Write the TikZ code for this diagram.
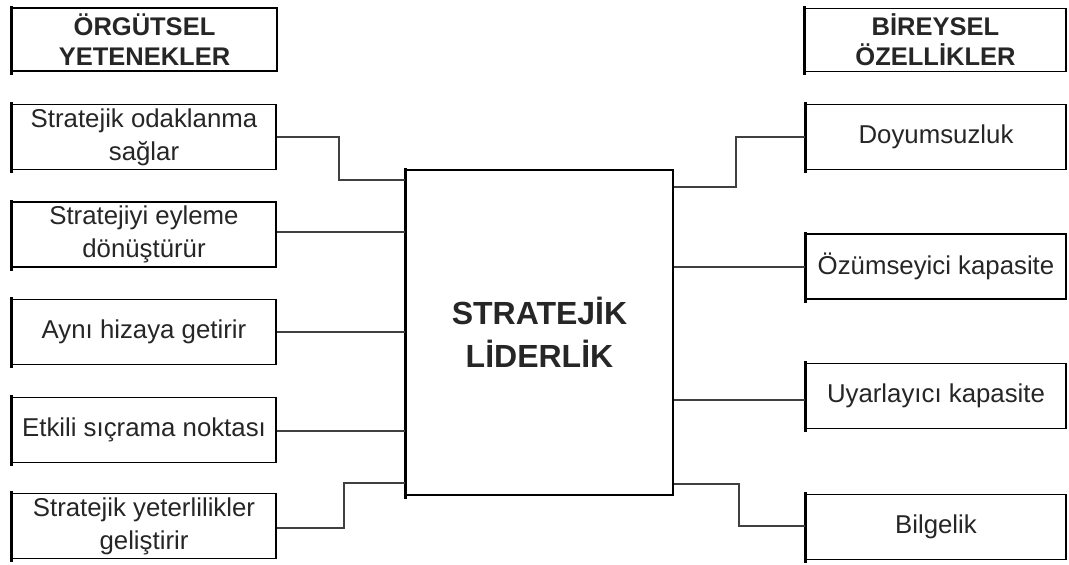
\documentclass[tikz,border=0pt]{standalone}
\usepackage{fontspec}
\setmainfont{Liberation Sans}
\begin{document}
\begin{tikzpicture}[x=1pt,y=-1pt,
  box/.style={draw=black,line width=1.5pt,fill=white,inner sep=0pt,align=center,
    font=\fontsize{25.8}{33}\selectfont,text=black!85},
  lbox/.style={box,minimum width=264pt,minimum height=65pt},
  rbox/.style={box,minimum width=260pt,minimum height=65pt},
  hbox/.style={box,minimum height=63pt,font=\fontsize{25.5}{30}\selectfont\bfseries},
  cbox/.style={box,minimum width=267pt,minimum height=325pt,font=\fontsize{32}{43}\selectfont\bfseries},
  conn/.style={draw=black!75,line width=1.7pt},
  edge/.style={line width=3pt,line cap=rect}]
\useasboundingbox (0,0) rectangle (1069,565);
% headers
\node[hbox,minimum width=265pt] (h1) at (144.5,39.5) {ÖRGÜTSEL\\YETENEKLER};
\node[hbox,minimum width=261pt] (h2) at (935.5,40) {BİREYSEL\\ÖZELLİKLER};
% central
\node[cbox] (c) at (539.5,332.5) {STRATEJİK\\LİDERLİK};
% left boxes
\node[lbox] (l1) at (144,137) {Stratejik odaklanma\\sağlar};
\node[lbox] (l2) at (144,234.5) {Stratejiyi eyleme\\dönüştürür};
\node[lbox] (l3) at (144,332) {Aynı hizaya getirir};
\node[lbox] (l4) at (144,430) {Etkili sıçrama noktası};
\node[lbox] (l5) at (144,526) {Stratejik yeterlilikler\\geliştirir};
% right boxes
\node[rbox] (r1) at (936,137) {Doyumsuzluk};
\node[rbox] (r2) at (936,266.5) {Özümseyici kapasite};
\node[rbox] (r3) at (936,396) {Uyarlayıcı kapasite};
\node[rbox] (r4) at (936,527) {Bilgelik};
% thick left edges
\foreach \n in {h1,h2,c,l1,l2,l3,l4,l5,r1,r2,r3,r4}
  \draw[edge] (\n.north west) -- ([yshift=-1.5pt]\n.south west);
% connectors left
\draw[conn] (l1.east) -- ++(62,0) |- (c.west |- 0,180);
\draw[conn] (l2.east |- 0,232) -- (c.west |- 0,232);
\draw[conn] (l3.east) -- (c.west |- l3.east);
\draw[conn] (l4.east |- 0,431) -- (c.west |- 0,431);
\draw[conn] (l5.east |- 0,528) -- ++(67,0) |- (c.west |- 0,483);
% connectors right
\draw[conn] (c.east |- 0,187) -- ++(62,0) |- (r1.west);
\draw[conn] (c.east |- 0,267) -- (r2.west |- 0,267);
\draw[conn] (c.east |- 0,400) -- (r3.west |- 0,400);
\draw[conn] (c.east |- 0,484) -- ++(65,0) |- (r4.west |- 0,526);
\end{tikzpicture}
\end{document}
